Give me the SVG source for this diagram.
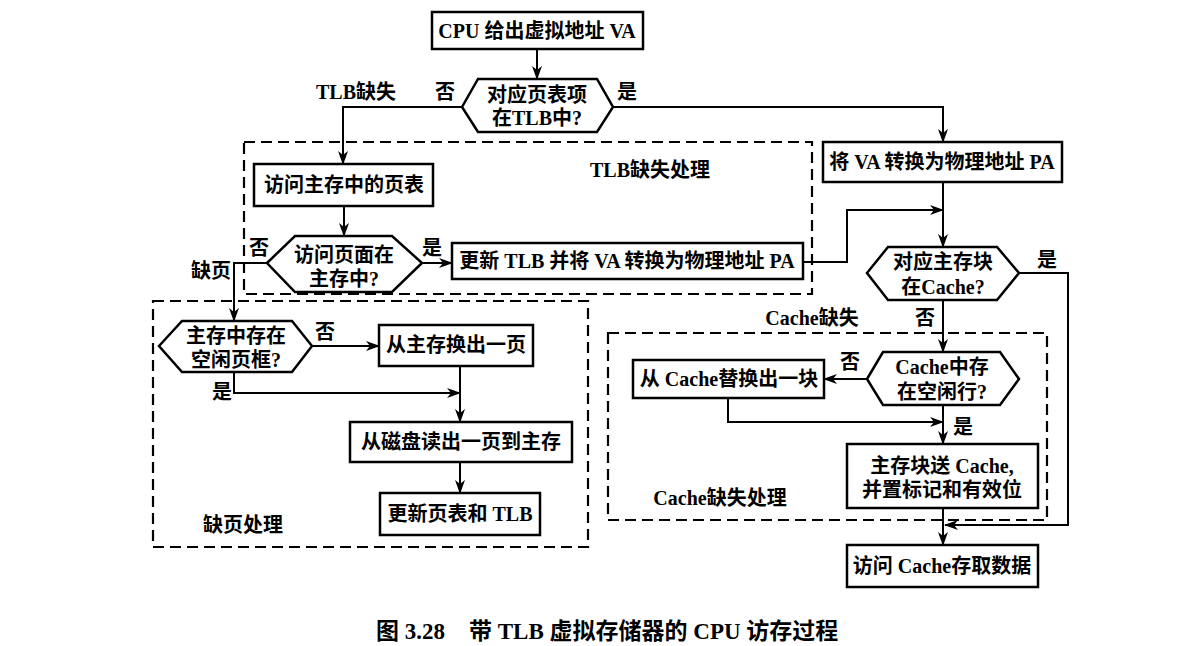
<svg xmlns="http://www.w3.org/2000/svg" width="1194" height="646" viewBox="0 0 1194 646">
<defs>
<style>
.box{fill:#fff;stroke:#000;stroke-width:2.5}
.dash{fill:none;stroke:#000;stroke-width:2.2;stroke-dasharray:11 6}
.ln{fill:none;stroke:#000;stroke-width:2}
.t{font-family:"Liberation Serif","Noto Sans CJK SC",serif;font-weight:bold;font-size:20px;fill:#000}
.m{text-anchor:middle}
.cap{font-family:"Liberation Serif","Noto Sans CJK SC",serif;font-weight:bold;font-size:23px;fill:#000}
</style>
<marker id="ah" markerUnits="userSpaceOnUse" markerWidth="14" markerHeight="10" refX="13" refY="5" orient="auto">
<path d="M0,0 L14,5 L0,10 L4,5 z" fill="#000"/>
</marker>
</defs>
<rect width="1194" height="646" fill="#fff"/>

<g id="regions">
<rect class="dash" x="244" y="142" width="568" height="152"/>
<rect class="dash" x="153" y="301" width="435" height="246"/>
<rect class="dash" x="608" y="333" width="439" height="187"/>
<text class="t m" x="650" y="177">TLB缺失处理</text>
<text class="t m" x="243" y="532">缺页处理</text>
<text class="t m" x="720" y="505">Cache缺失处理</text>
</g>

<g id="connectors">
<path class="ln" d="M537,49 V79" marker-end="url(#ah)"/>
<path class="ln" d="M462,107 H343 V164" marker-end="url(#ah)"/>
<path class="ln" d="M613,107 H943 V142" marker-end="url(#ah)"/>
<path class="ln" d="M344,206 V236" marker-end="url(#ah)"/>
<path class="ln" d="M422,263 H452" marker-end="url(#ah)"/>
<path class="ln" d="M803,262 H847 V210 H943" marker-end="url(#ah)"/>
<path class="ln" d="M943,182 V247" marker-end="url(#ah)"/>
<path class="ln" d="M943,300 V352" marker-end="url(#ah)"/>
<path class="ln" d="M1019,273 H1068 V525 H945" marker-end="url(#ah)"/>
<path class="ln" d="M867,379 H824" marker-end="url(#ah)"/>
<path class="ln" d="M728,398 V422 H943" marker-end="url(#ah)"/>
<path class="ln" d="M943,405 V444" marker-end="url(#ah)"/>
<path class="ln" d="M943,508 V545" marker-end="url(#ah)"/>
<path class="ln" d="M267,263 H234 V321" marker-end="url(#ah)"/>
<path class="ln" d="M312,346 H379" marker-end="url(#ah)"/>
<path class="ln" d="M460,366 V422" marker-end="url(#ah)"/>
<path class="ln" d="M234,372 V393 H460" marker-end="url(#ah)"/>
<path class="ln" d="M460,462 V493" marker-end="url(#ah)"/>
</g>

<g id="labels">
<text class="t m" x="356" y="99">TLB缺失</text>
<text class="t m" x="445" y="99">否</text>
<text class="t m" x="627" y="99">是</text>
<text class="t m" x="259" y="255">否</text>
<text class="t m" x="432" y="255">是</text>
<text class="t m" x="211" y="278">缺页</text>
<text class="t m" x="325" y="339">否</text>
<text class="t m" x="222" y="399">是</text>
<text class="t m" x="1047" y="267">是</text>
<text class="t m" x="812" y="325">Cache缺失</text>
<text class="t m" x="925" y="325">否</text>
<text class="t m" x="850" y="369">否</text>
<text class="t m" x="963" y="434">是</text>
</g>

<g id="n_cpu">
<rect class="box" x="432" y="12" width="211" height="37"/>
<text class="t m" x="537" y="38">CPU 给出虚拟地址 VA</text>
</g>
<g id="n_tlb">
<polygon class="box" points="462,107 478,79 597,79 613,107 597,132 478,132"/>
<text class="t m" x="537" y="102">对应页表项</text>
<text class="t m" x="537" y="125">在TLB中?</text>
</g>
<g id="n_pt">
<rect class="box" x="254" y="164" width="179" height="42"/>
<text class="t m" x="344" y="192">访问主存中的页表</text>
</g>
<g id="n_inmem">
<polygon class="box" points="267,263 295,236 392,236 422,263 392,292 295,292"/>
<text class="t m" x="344" y="262">访问页面在</text>
<text class="t m" x="344" y="286">主存中?</text>
</g>
<g id="n_update">
<rect class="box" x="452" y="243" width="351" height="36"/>
<text class="t m" x="627" y="268">更新 TLB 并将 VA 转换为物理地址 PA</text>
</g>
<g id="n_pa">
<rect class="box" x="823" y="142" width="239" height="40"/>
<text class="t m" x="942" y="169">将 VA 转换为物理地址 PA</text>
</g>
<g id="n_incache">
<polygon class="box" points="867,273 888,247 997,247 1019,273 997,300 888,300"/>
<text class="t m" x="943" y="269">对应主存块</text>
<text class="t m" x="943" y="294">在Cache?</text>
</g>
<g id="n_free">
<polygon class="box" points="159,346 182,321 292,321 312,346 292,372 182,372"/>
<text class="t m" x="236" y="343">主存中存在</text>
<text class="t m" x="236" y="367">空闲页框?</text>
</g>
<g id="n_swap">
<rect class="box" x="379" y="325" width="154" height="41"/>
<text class="t m" x="456" y="352">从主存换出一页</text>
</g>
<g id="n_disk">
<rect class="box" x="350" y="422" width="222" height="40"/>
<text class="t m" x="461" y="449">从磁盘读出一页到主存</text>
</g>
<g id="n_updpt">
<rect class="box" x="380" y="493" width="160" height="42"/>
<text class="t m" x="460" y="521">更新页表和 TLB</text>
</g>
<g id="n_freeline">
<polygon class="box" points="867,379 883,352 1000,352 1019,379 1000,405 883,405"/>
<text class="t m" x="942" y="374">Cache中存</text>
<text class="t m" x="942" y="399">在空闲行?</text>
</g>
<g id="n_replace">
<rect class="box" x="633" y="360" width="191" height="38"/>
<text class="t m" x="729" y="386">从 Cache替换出一块</text>
</g>
<g id="n_load">
<rect class="box" x="847" y="444" width="191" height="64"/>
<text class="t m" x="942" y="473">主存块送 Cache,</text>
<text class="t m" x="942" y="497">并置标记和有效位</text>
</g>
<g id="n_access">
<rect class="box" x="847" y="545" width="191" height="42"/>
<text class="t m" x="942" y="573">访问 Cache存取数据</text>
</g>

<g id="caption">
<text class="cap" x="376" y="639">图 3.28</text>
<text class="cap" x="469" y="639">带 TLB 虚拟存储器的 CPU 访存过程</text>
</g>
</svg>
